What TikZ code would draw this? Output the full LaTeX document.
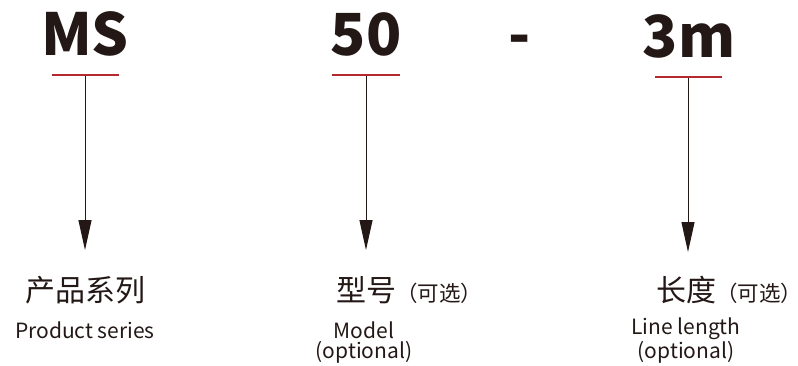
\documentclass[tikz,border=0pt]{standalone}
\usepackage{fontspec}
\setmainfont{Noto Sans CJK SC}
\usetikzlibrary{arrows.meta,positioning}
\definecolor{ink}{HTML}{231815}
\definecolor{mark}{HTML}{B5292E}

\begin{document}
\begin{tikzpicture}[
  x=1pt, y=-1pt,
  code/.style={text=ink, font=\fontsize{58}{58}\selectfont\bfseries, inner sep=0pt, anchor=base},
  bar/.style={fill=mark, inner sep=0pt, minimum height=2pt},
  cn/.style={text=ink, font=\fontsize{30}{30}\selectfont, inner sep=0pt, anchor=base},
  opt/.style={text=ink, font=\fontsize{21.5}{21.5}\selectfont, inner sep=0pt, anchor=base west},
  en/.style={text=ink, font=\fontsize{21}{20}\selectfont, inner sep=0pt, anchor=base, align=center},
  arrow/.style={-{Triangle[length=30pt,width=13pt]}, draw=ink, line width=1pt}
]
\useasboundingbox (0,0) rectangle (798,365);

% code parts
\node[code] (ms) at (85,55) {MS};
\node[code] (fifty) at (366,55) {50};
\node[code] (dash) at (520,55) {-};
\node[code] (len) at (689,57) {3m};

% red marks under the parts
\node[bar, minimum width=67pt] (ms-bar) at (85,75) {};
\node[bar, minimum width=68pt] (fifty-bar) at (366,75) {};
\node[bar, minimum width=67pt] (len-bar) at (688,77) {};

% labels (two-line ones sit on their last line)
\node[cn] (ms-cn) at (85,301) {产品系列};
\node[en] (ms-en) at (85,338) {Product series};
\node[cn] (fifty-cn) at (366,301) {型号};
\node[opt] (fifty-opt) at (fifty-cn.base east) {（可选\rlap{）}};
\node[en] (fifty-en) at (364,358) {Model\\(optional)};
\node[cn] (len-cn) at (686,301) {长度};
\node[opt] (len-opt) at (len-cn.base east) {（可选\rlap{）}};
\node[en] (len-en) at (686,358) {Line length\\(optional)};

\coordinate (ms-tip) at (85,250);
\coordinate (fifty-tip) at (366,250);
\coordinate (len-tip) at (688,252);

\draw[arrow] (ms-bar.south) -- (ms-tip);
\draw[arrow] (fifty-bar.south) -- (fifty-tip);
\draw[arrow] (len-bar.south) -- (len-tip);
\end{tikzpicture}
\end{document}
